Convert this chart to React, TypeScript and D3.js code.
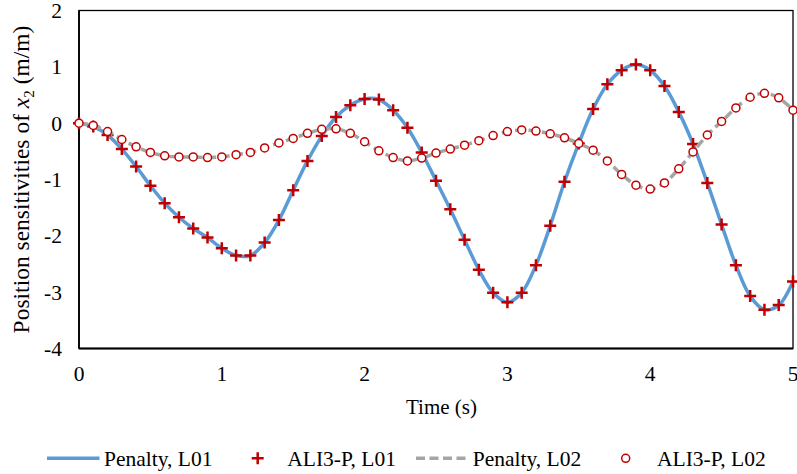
import React from "react";
import * as d3 from "d3";

const times: number[] = d3.range(0, 51).map((i) => +(i * 0.1).toFixed(1));

const l01: number[] = [
  0.0, -0.06, -0.21, -0.46, -0.77, -1.11, -1.42, -1.67, -1.87, -2.03,
  -2.22, -2.35, -2.35, -2.12, -1.72, -1.19, -0.67, -0.23, 0.11, 0.32,
  0.43, 0.42, 0.23, -0.08, -0.52, -1.02, -1.53, -2.07, -2.6, -3.01,
  -3.18, -3.01, -2.52, -1.82, -1.04, -0.36, 0.25, 0.69, 0.94, 1.04,
  0.94, 0.66, 0.2, -0.37, -1.06, -1.8, -2.52, -3.07, -3.31, -3.23,
  -2.81,
];

const l02: number[] = [
  0.0, -0.04, -0.15, -0.29, -0.42, -0.52, -0.58, -0.6, -0.6, -0.61,
  -0.6, -0.56, -0.52, -0.44, -0.35, -0.27, -0.18, -0.11, -0.1, -0.18,
  -0.33, -0.49, -0.61, -0.67, -0.62, -0.53, -0.46, -0.39, -0.31, -0.22,
  -0.15, -0.12, -0.14, -0.19, -0.26, -0.36, -0.48, -0.67, -0.91, -1.1,
  -1.17, -1.06, -0.81, -0.51, -0.21, 0.03, 0.27, 0.46, 0.53, 0.45,
  0.23,
];

const xTicks: number[] = [0, 1, 2, 3, 4, 5];
const yTicks: number[] = [2, 1, 0, -1, -2, -3, -4];

const legendLabels: string[] = ["Penalty, L01", "ALI3-P, L01", "Penalty, L02", "ALI3-P, L02"];

const W = 797;
const H = 474;
const M = { left: 79, right: 793, top: 10.5, bottom: 348.5 };
const BLUE = "#5B9BD5";
const GREY = "#A5A5A5";
const RED = "#C00000";
const FONT = "'Liberation Serif', 'Times New Roman', serif";
const FS = 21.5;

export default function App() {
  const x = d3.scaleLinear().domain([0, 5]).range([M.left, M.right]);
  const y = d3.scaleLinear().domain([-4, 2]).range([M.bottom, M.top]);

  const line = (vals: number[]) =>
    d3
      .line<number>()
      .x((_, i) => x(times[i]))
      .y((d) => y(d))
      .curve(d3.curveCatmullRom.alpha(0.5))(vals) || "";

  const cross = (cx: number, cy: number, s = 6) =>
    `M${cx - s},${cy}L${cx + s},${cy}M${cx},${cy - s}L${cx},${cy + s}`;

  const legY = 458.3;
  const legBase = 466;

  return (
    <svg
      width={W}
      height={H}
      style={{ position: "fixed", left: 0, top: 0, background: "#fff" }}
      fontFamily={FONT}
    >
      <rect x={0} y={0} width={W} height={H} fill="#fff" />
      {/* plot frame */}
      <rect
        x={M.left}
        y={M.top}
        width={M.right - M.left}
        height={M.bottom - M.top}
        fill="none"
        stroke="#000"
        strokeWidth={1.3}
      />
      <line x1={M.left} x2={M.left} y1={M.top} y2={M.bottom} stroke="#000" strokeWidth={1.8} />
      <line x1={M.left} x2={M.right} y1={M.bottom} y2={M.bottom} stroke="#000" strokeWidth={1.8} />

      {/* y tick labels */}
      {yTicks.map((t) => (
        <text key={t} x={M.left - 17} y={y(t) + 7.5} textAnchor="end" fontSize={FS} fill="#000">
          {t}
        </text>
      ))}
      {/* x tick labels */}
      {xTicks.map((t) => (
        <text key={t} x={x(t)} y={M.bottom + 32.5} textAnchor="middle" fontSize={FS} fill="#000">
          {t}
        </text>
      ))}

      {/* axis titles */}
      <text x={441.5} y={414} textAnchor="middle" fontSize={21} fill="#000">
        Time (s)
      </text>
      <text
        transform={`translate(29,${(M.top + M.bottom) / 2}) rotate(-90)`}
        textAnchor="middle"
        fontSize={23.5}
        fill="#000"
      >
        Position sensitivities of <tspan fontStyle="italic">x</tspan>
        <tspan fontSize={15} dy={5}>2</tspan>
        <tspan dy={-5}> (m/m)</tspan>
      </text>

      {/* series */}
      <path d={line(l01)} fill="none" stroke={BLUE} strokeWidth={3.5} />
      {l01.map((v, i) => (
        <path key={"c" + i} d={cross(x(times[i]), y(v))} stroke={RED} strokeWidth={2.5} fill="none" />
      ))}
      <path d={line(l02)} fill="none" stroke={GREY} strokeWidth={3.5} strokeDasharray="9,4.5" />
      {l02.map((v, i) => (
        <circle key={"o" + i} cx={x(times[i])} cy={y(v)} r={4} fill="#fff" stroke={RED} strokeWidth={1.5} />
      ))}

      {/* legend */}
      <line x1={47} x2={99.5} y1={legY} y2={legY} stroke={BLUE} strokeWidth={3.5} />
      <text x={104} y={legBase} fontSize={FS} fill="#000">{legendLabels[0]}</text>
      <path d={cross(257.7, legY)} stroke={RED} strokeWidth={2.5} />
      <text x={287.3} y={legBase} fontSize={FS} fill="#000">{legendLabels[1]}</text>
      <line x1={416} x2={469} y1={legY} y2={legY} stroke={GREY} strokeWidth={3.5} strokeDasharray="9,4.5" />
      <text x={472.7} y={legBase} fontSize={FS} fill="#000">{legendLabels[2]}</text>
      <circle cx={625.7} cy={legY} r={4} fill="#fff" stroke={RED} strokeWidth={1.5} />
      <text x={657} y={legBase} fontSize={FS} fill="#000">{legendLabels[3]}</text>
    </svg>
  );
}
